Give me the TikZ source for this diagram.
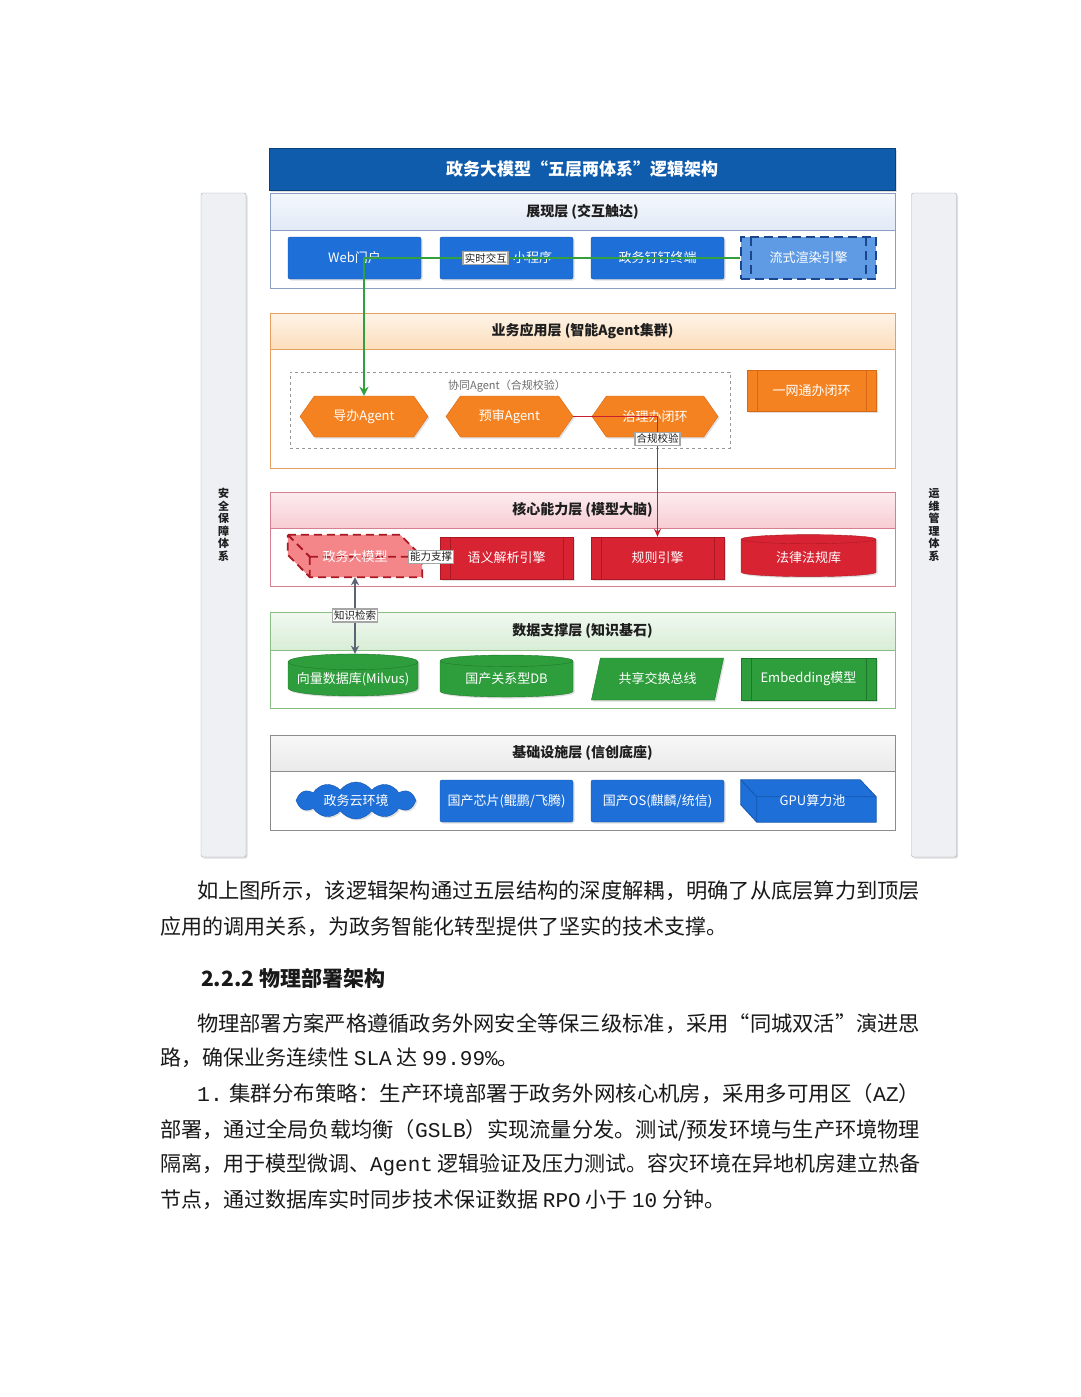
\documentclass[tikz,border=0pt]{standalone}
\usepackage{graphicx}
\usepackage{fontspec}
\setmainfont{Noto Sans CJK SC}
\newfontfamily\cjk{Noto Sans CJK SC}
\newfontfamily\monof{Liberation Mono}
\usetikzlibrary{shapes.geometric,shapes.symbols,shapes.misc,shadows,arrows.meta,calc}

\definecolor{bluenode}{RGB}{30,112,216}
\definecolor{bluenodeB}{RGB}{20,85,175}
\definecolor{titleblue}{RGB}{16,92,172}
\definecolor{lightblue}{RGB}{95,155,228}
\definecolor{darkdash}{RGB}{25,70,140}
\definecolor{orangeN}{RGB}{245,130,32}
\definecolor{orangeB}{RGB}{215,105,20}
\definecolor{redN}{RGB}{216,35,50}
\definecolor{redB}{RGB}{170,25,35}
\definecolor{redL}{RGB}{244,134,138}
\definecolor{greenN}{RGB}{46,158,60}
\definecolor{greenB}{RGB}{30,120,42}
\definecolor{hBlue}{RGB}{226,234,247}
\definecolor{hBlueB}{RGB}{140,160,195}
\definecolor{hOrange}{RGB}{252,222,188}
\definecolor{hOrangeB}{RGB}{228,160,95}
\definecolor{hRed}{RGB}{247,204,211}
\definecolor{hRedB}{RGB}{212,128,142}
\definecolor{hGreen}{RGB}{216,237,214}
\definecolor{hGreenB}{RGB}{138,188,133}
\definecolor{hGray}{RGB}{234,234,234}
\definecolor{hGrayB}{RGB}{140,140,140}
\definecolor{sideF}{RGB}{238,240,244}
\definecolor{sideB}{RGB}{165,168,172}
\definecolor{textC}{RGB}{30,30,30}
\definecolor{bodyC}{RGB}{25,25,25}
\definecolor{gedgeC}{RGB}{50,160,60}
\definecolor{redgeC}{RGB}{200,30,50}
\definecolor{grayedgeC}{RGB}{90,100,115}
\definecolor{grpC}{RGB}{150,150,150}

\newcommand\fitto[2]{\resizebox{#1}{\height}{#2}}

\tikzset{
  shad/.style={drop shadow={opacity=0.25,shadow xshift=1.5pt,shadow yshift=-1.5pt}},
  hdr/.style 2 args={draw=#2, top color=#1!35!white, bottom color=#1, minimum width=625,
     inner sep=0, text=textC, font=\bfseries\fontsize{14}{14}\selectfont},
  cont/.style={draw=#1, fill=white, minimum width=625, inner sep=0},
  nfont/.style={font=\fontsize{13}{13}\selectfont},
  bnode/.style={draw=bluenodeB, fill=bluenode, rounded corners=2, minimum width=133,
     minimum height=42, text=white, inner sep=0, nfont, shad},
  procbox/.style={path picture={
     \draw[#1] ([xshift=10pt]path picture bounding box.north west) -- ([xshift=10pt]path picture bounding box.south west);
     \draw[#1] ([xshift=-10pt]path picture bounding box.north east) -- ([xshift=-10pt]path picture bounding box.south east);}},
  hexa/.style={signal, signal to=west and east, signal pointer angle=110, draw=orangeB,
     fill=orangeN, minimum width=128, minimum height=41, text=white, inner sep=0, nfont, shad},
  onode/.style={draw=orangeB, fill=orangeN, minimum width=129, minimum height=41,
     text=white, inner sep=0, nfont, shad, procbox={draw=orangeB}},
  rnode/.style={draw=redB, fill=redN, minimum width=133, minimum height=42,
     text=white, inner sep=0, nfont, shad, procbox={draw=redB}},
  gnode/.style={draw=greenB, fill=greenN, minimum width=135, minimum height=42,
     text=white, inner sep=0, nfont, shad, procbox={draw=greenB}},
  cyl/.style 2 args={cylinder, shape border rotate=90, aspect=0.14, draw=#2, fill=#1,
     minimum width=130, minimum height=42, text=white, inner sep=0, nfont, shad},
  elabel/.style={fill=white, draw=gray!70, inner sep=1.5pt, text=textC,
     font=\fontsize{10.5}{10.5}\selectfont},
  sidebar/.style={draw=sideB, fill=sideF, rounded corners=2, minimum width=45,
     minimum height=664, inner sep=0, align=center, text=textC,
     font=\bfseries\fontsize{11}{12.5}\selectfont, shad},
  bodyline/.style={anchor=west, inner sep=0, text=bodyC, font=\fontsize{21}{21}\selectfont}
}

\begin{document}
\begin{tikzpicture}[x=1pt,y=-1pt]
\useasboundingbox (0,0) rectangle (1080,1397);
\fill[white] (0,0) rectangle (1080,1397);

% side bars
\node[sidebar] (secbar) at (223.5,525) {安\\全\\保\\障\\体\\系};
\node[sidebar] (opsbar) at (934,525) {运\\维\\管\\理\\体\\系};

% title
\node[draw=titleblue!70!black, fill=titleblue, minimum width=626, minimum height=42, inner sep=0,
      text=white, font=\bfseries\fontsize{17}{17}\selectfont, shad] (title) at (582,169)
      {政务大模型“五层两体系”逻辑架构};

% ---------- layer 1
\node[cont=hBlueB, minimum height=58] (c1) at (582.5,259) {};
\node[hdr={hBlue}{hBlueB}, minimum height=37] (h1) at (582.5,211.5) {展现层 (交互触达)};
\node[bnode] (web) at (354.5,258) {Web门户};
\node[bnode] (rt) at (506.5,258) {\phantom{实时交互}小程序};
\node[bnode] (dd) at (657.5,258) {政务钉钉终端};
\node[draw=darkdash, fill=lightblue, line width=2.4pt, dash pattern=on 9pt off 5pt, minimum width=135, minimum height=42,
      text=white, inner sep=0, nfont, procbox={draw=darkdash,line width=2pt,dash pattern=on 9pt off 5pt}] (render) at (808.5,258) {流式渲染引擎};

% ---------- layer 2
\node[cont=hOrangeB, minimum height=119] (c2) at (582.5,408.5) {};
\node[hdr={hOrange}{hOrangeB}, minimum height=36] (h2) at (582.5,331) {业务应用层 (智能Agent集群)};
\node[draw=grpC, dashed, line width=0.9pt, minimum width=440, minimum height=76, inner sep=0] (grp) at (510,410) {};
\node[text=gray!85!black, inner sep=0, font=\fontsize{11}{11}\selectfont] (grplbl) at (507,386) {协同Agent（合规校验）};
\node[hexa] (guide) at (364,416.5) {导办Agent};
\node[hexa, minimum width=127] (pre) at (509.5,416.5) {预审Agent};
\node[hexa, minimum width=126] (gov) at (655,416.5) {治理办闭环};
\node[onode] (one) at (811.5,390.5) {一网通办闭环};

% ---------- layer 3
\node[cont=hRedB, minimum height=58] (c3) at (582.5,557) {};
\node[hdr={hRed}{hRedB}, minimum height=36] (h3) at (582.5,510) {核心能力层 (模型大脑)};
\node[minimum width=134, minimum height=42, inner sep=0] (zw) at (355,556) {};
\fill[redL] (zw.north west) -- ($(zw.north east)+(-22,0)$) -- ($(zw.north east)+(0,22)$) -- (zw.south east)
   -- ($(zw.south west)+(22,0)$) -- ($(zw.north west)+(0,20)$) -- cycle;
\draw[redB, line width=1.8pt, dash pattern=on 8pt off 5pt]
   (zw.north west) -- ($(zw.north east)+(-22,0)$) -- ($(zw.north east)+(0,22)$) -- (zw.south east)
   -- ($(zw.south west)+(22,0)$) -- ($(zw.north west)+(0,20)$) -- cycle
   ($(zw.north west)+(22,22)$) -- ($(zw.north east)+(0,22)$)
   ($(zw.north west)+(22,22)$) -- ($(zw.south west)+(22,0)$)
   (zw.north west) -- ($(zw.north west)+(22,22)$);
\node[text=white, nfont, inner sep=0] (zwtext) at ($(zw.center)+(0,1)$) {政务大模型};
\node[rnode] (sem) at (506.5,558) {语义解析引擎};
\node[rnode] (rule) at (657.5,558) {规则引擎};
\node[cyl={redN}{redB}, minimum width=135] (law) at (808.5,558) {法律法规库};

% ---------- layer 4
\node[cont=hGreenB, minimum height=58] (c4) at (582.5,679) {};
\node[hdr={hGreen}{hGreenB}, minimum height=38] (h4) at (582.5,631) {数据支撑层 (知识基石)};
\node[cyl={greenN}{greenB}] (vec) at (353,679) {向量数据库(Milvus)};
\node[cyl={greenN}{greenB}, minimum width=133] (rel) at (506.5,679) {国产关系型DB};
\node[trapezium, trapezium left angle=63, trapezium right angle=117, trapezium stretches=true,
      draw=greenB, fill=greenN, minimum width=133, minimum height=42, text=white, inner sep=0, nfont, shad]
      (bus) at (657.5,679) {共享交换总线};
\node[gnode] (emb) at (808.5,679) {Embedding模型};

% ---------- layer 5
\node[cont=hGrayB, minimum height=59] (c5) at (582.5,800.5) {};
\node[hdr={hGray}{hGrayB}, minimum height=36] (h5) at (582.5,753) {基础设施层 (信创底座)};
\node[cloud, cloud puffs=12, cloud puff arc=110, aspect=3.6, draw=bluenodeB, fill=bluenode,
      minimum width=120, minimum height=32, inner sep=0, text=white, nfont, shad] (cloud) at (356,800.5) {政务云环境};
\node[bnode] (chip) at (506.5,801) {国产芯片(鲲鹏/飞腾)};
\node[bnode] (os) at (657.5,801) {国产OS(麒麟/统信)};
\node[minimum width=135, minimum height=42, inner sep=0] (gpu) at (808.5,801) {};
\filldraw[fill=bluenode, draw=bluenodeB, line width=0.8pt]
   (gpu.north west) -- ($(gpu.north east)+(-16,0)$) -- ($(gpu.north east)+(0,17)$) -- (gpu.south east)
   -- ($(gpu.south west)+(16,0)$) -- ($(gpu.north west)+(0,25)$) -- cycle;
\draw[bluenodeB, line width=0.8pt]
   ($(gpu.north west)+(16,17)$) -- ($(gpu.north east)+(0,17)$)
   ($(gpu.north west)+(16,17)$) -- ($(gpu.south west)+(16,0)$)
   (gpu.north west) -- ($(gpu.north west)+(16,17)$);
\node[text=white, nfont, inner sep=0] (gputext) at ($(gpu.center)+(4,0)$) {GPU算力池};

% ---------- connectors
\draw[gedgeC, line width=1.6pt, -{Stealth[length=9pt,width=9pt]}] (render.west) -| node[pos=0.338, elabel] {实时交互} (guide.north);
\draw[redgeC, line width=1.2pt, -{Stealth[length=8pt,width=7pt]}] (pre.east) -| node[pos=0.593, elabel] {合规校验} (rule.north);
\draw[grayedgeC, line width=1.4pt, {Stealth[length=8pt,width=8pt]}-{Stealth[length=8pt,width=8pt]}] (zw.south) -- node[pos=0.5, elabel] {知识检索} (zw.south |- vec.north);
\draw[grayedgeC, line width=1pt] (zw.east) -- node[elabel] {能力支撑} (sem.west);

% ---------- body text
\node[bodyline] (t1) at (197,891) {\fitto{723pt}{如上图所示，该逻辑架构通过五层结构的深度解耦，明确了从底层算力到顶层}};
\node[bodyline] (t2) at (160,927) {应用的调用关系，为政务智能化转型提供了坚实的技术支撑。};
\node[bodyline, font=\bfseries\fontsize{21}{21}\selectfont] (t3) at (201,978) {2.2.2 物理部署架构};
\node[bodyline] (t4) at (197,1024) {\fitto{723pt}{物理部署方案严格遵循政务外网安全等保三级标准，采用“同城双活”演进思}};
\node[bodyline] (t5) at (160,1058) {路，确保业务连续性 {\monof SLA} 达 {\monof 99.99\%}。};
\node[bodyline] (t6) at (197,1094) {\fitto{723pt}{{\monof 1.} 集群分布策略：生产环境部署于政务外网核心机房，采用多可用区（{\monof AZ}）}};
\node[bodyline] (t7) at (160,1130) {\fitto{760pt}{部署，通过全局负载均衡（{\monof GSLB}）实现流量分发。测试/预发环境与生产环境物理}};
\node[bodyline] (t8) at (160,1165) {\fitto{760pt}{隔离，用于模型微调、{\monof Agent} 逻辑验证及压力测试。容灾环境在异地机房建立热备}};
\node[bodyline] (t9) at (160,1200) {节点，通过数据库实时同步技术保证数据 {\monof RPO} 小于 {\monof 10} 分钟。};
\end{tikzpicture}
\end{document}
